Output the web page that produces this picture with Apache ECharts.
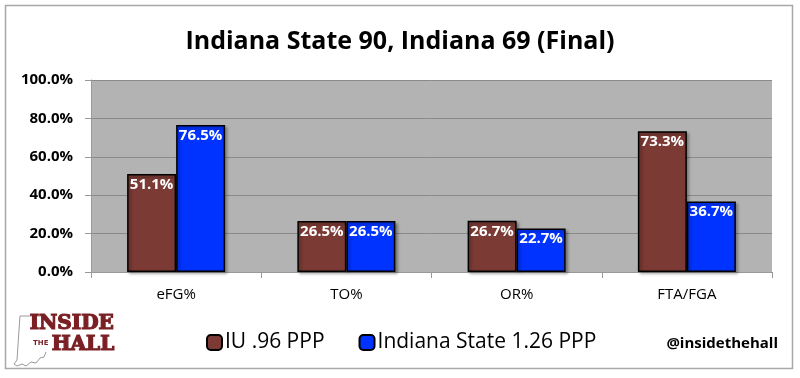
<!DOCTYPE html>
<html><head><meta charset="utf-8">
<script src="https://cdn.jsdelivr.net/npm/echarts@6/dist/echarts.min.js"></script>
<style>html,body{margin:0;padding:0;background:#fff}#c{width:800px;height:378px}</style>
</head><body><div id="c"></div>
<script>
const categories = ['eFG%', 'TO%', 'OR%', 'FTA/FGA'];
const seriesNames = ['IU .96 PPP', 'Indiana State 1.26 PPP'];
const iuValues = [51.1, 26.5, 26.7, 73.3];
const isuValues = [76.5, 26.5, 22.7, 36.7];
const titleText = 'Indiana State 90, Indiana 69 (Final)';
const yTicks = [0, 20, 40, 60, 80, 100];

const chart = echarts.init(document.getElementById('c'));
const F = '"Open Sans", Lato, sans-serif';
const labelCfg = {show: true, position: 'insideTop', distance: 3, color: '#fff', fontWeight: 'bold', fontSize: 15, fontFamily: F,
  formatter: p => p.value.toFixed(1) + '%'};
chart.setOption({
  animation: false,
  title: {text: titleText, left: 'center', top: 24, textStyle: {fontFamily: F, fontWeight: 'bold', fontSize: 25, color: '#000'}},
  legend: {data: seriesNames, left: 201, top: 327, itemWidth: 15, itemHeight: 15, itemGap: 34,
    textStyle: {fontFamily: F, fontSize: 21, color: '#000', padding: [0,0,0,-2]}},
  grid: {left: 91, right: 28, top: 80, bottom: 106, show: true, backgroundColor: '#b3b3b3', borderWidth: 0},
  xAxis: {type: 'category', data: categories,
    axisLine: {lineStyle: {color: '#999', width: 1}},
    axisTick: {show: true, length: 6, lineStyle: {color: '#999'}},
    axisLabel: {fontFamily: F, fontSize: 15, color: '#000', margin: 15}},
  yAxis: {type: 'value', min: yTicks[0], max: yTicks[yTicks.length-1], interval: 20,
    axisLine: {show: true, lineStyle: {color: '#999'}},
    axisTick: {show: true, length: 6, lineStyle: {color: '#999'}},
    splitLine: {lineStyle: {color: '#8a8a8a', width: 1}},
    axisLabel: {fontFamily: F, fontSize: 15, fontWeight: 'bold', color: '#000', margin: 18, formatter: v => v.toFixed(1) + '%'}},
  series: [
    {name: seriesNames[0], type: 'bar', data: iuValues, barWidth: 49, barGap: '0%',
     itemStyle: {color: '#7b3a34', borderColor: '#000', borderWidth: 1.5, shadowColor: 'rgba(0,0,0,0.35)', shadowBlur: 3, shadowOffsetX: 2, shadowOffsetY: 2},
     label: labelCfg},
    {name: seriesNames[1], type: 'bar', data: isuValues, barWidth: 49,
     itemStyle: {color: '#0033ff', borderColor: '#000', borderWidth: 1.5, shadowColor: 'rgba(0,0,0,0.35)', shadowBlur: 3, shadowOffsetX: 2, shadowOffsetY: 2},
     label: labelCfg}
  ],
  graphic: [
    {type: 'rect', shape: {x: 5.5, y: 5.5, width: 787, height: 363}, style: {fill: 'none', stroke: '#a8a8a8', lineWidth: 1.5}, z: -10},
    {type: 'polyline', shape: {points: [[46,316],[20,316],[19,330],[18,345],[17,360],[14,364],[17,366],[22,364],[26,366],[31,362],[36,363],[40,358],[44,357],[46,352]]},
     style: {fill: 'none', stroke: '#999', lineWidth: 1}},
    {type: 'text', left: 29, top: 312, scaleX: 1.06, style: {text: 'INSIDE', fill: '#7a1f24', stroke: '#7a1f24', lineWidth: 1.2, font: 'bold 21px "DejaVu Serif Condensed", "DejaVu Serif", serif'}},
    {type: 'text', left: 33, top: 340, style: {text: 'THE', fill: '#7a1f24', font: 'bold 7px "DejaVu Sans", sans-serif'}},
    {type: 'text', left: 51, top: 333, scaleX: 1.06, style: {text: 'HALL', fill: '#7a1f24', stroke: '#7a1f24', lineWidth: 1.2, font: 'bold 21px "DejaVu Serif Condensed", "DejaVu Serif", serif'}},
    {type: 'text', right: 22, top: 336, style: {text: '@insidethehall', fill: '#000', font: 'bold 15px "Open Sans", sans-serif'}}
  ]
});
</script></body></html>
